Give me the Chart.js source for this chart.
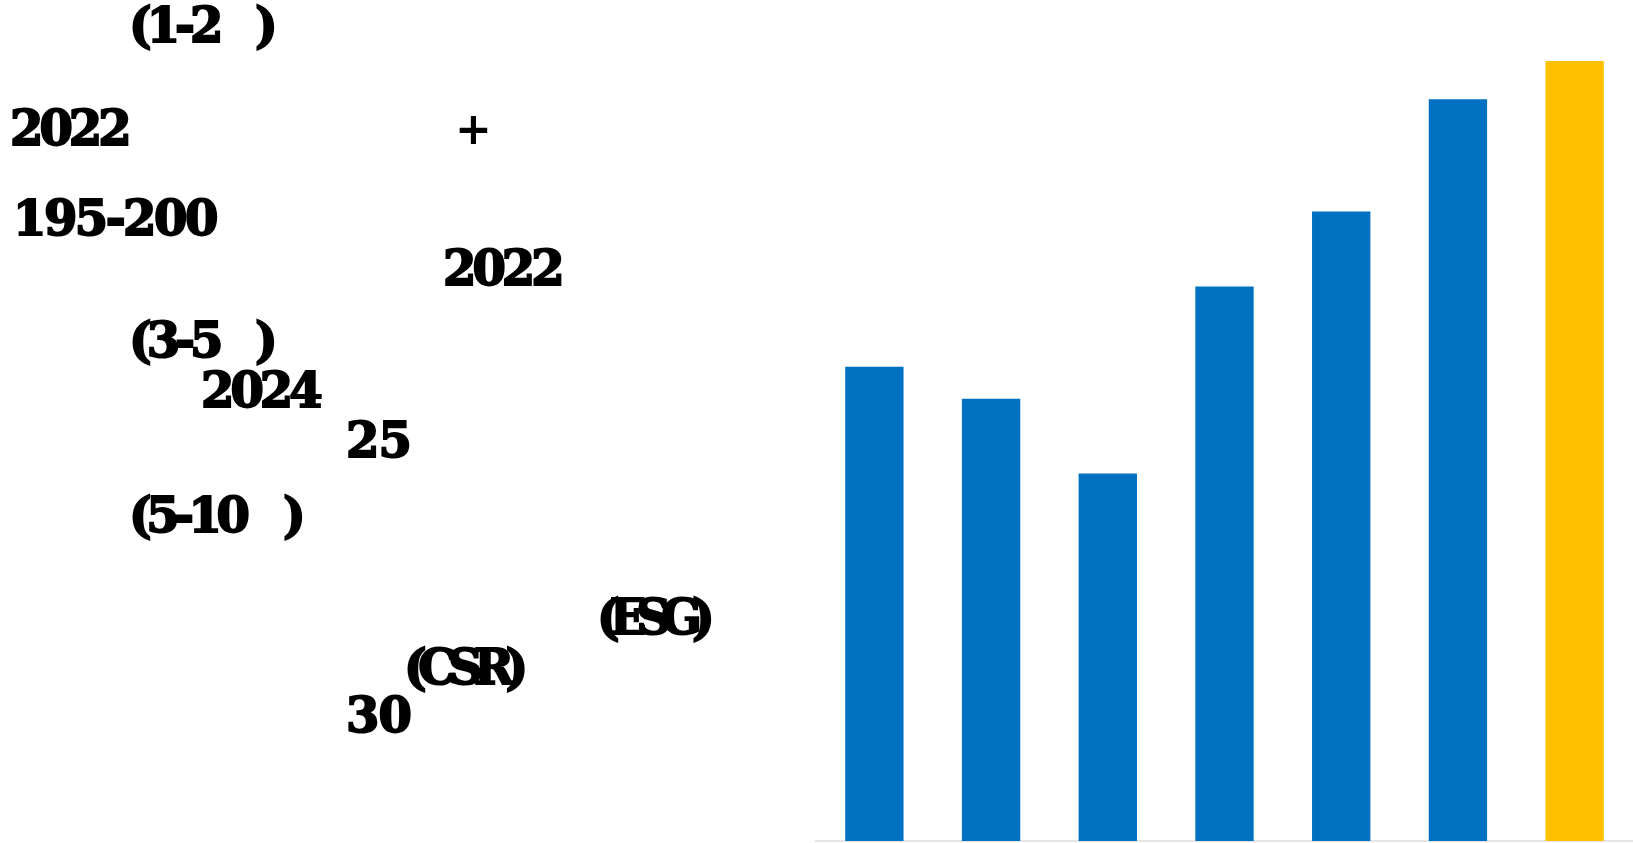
<!DOCTYPE html>
<html>
<head>
<meta charset="utf-8">
<script src="https://cdn.jsdelivr.net/npm/chart.js@4"></script>
<style>
  html, body { margin: 0; padding: 0; background: #fff; }
  #wrap { position: relative; width: 1633px; height: 843px; overflow: hidden; }
  #chart-box { position: absolute; left: 0; top: 0; width: 1633px; height: 843px; }
  .note {
    position: absolute;
    font-family: "DejaVu Serif", serif;
    font-weight: bold;
    font-size: 48px;
    line-height: 48px;
    white-space: pre;
    color: #000;
    -webkit-text-stroke: 2px #000;
  }
  .plus {
    position: absolute;
    font-family: "DejaVu Sans", sans-serif;
    font-weight: bold;
    font-size: 44px;
    line-height: 44px;
    color: #000;
  }
</style>
</head>
<body>
<div id="wrap">
  <div id="chart-box"><canvas id="bar-chart-area"></canvas></div>
</div>
<script>
var categories = ["2018", "2019", "2020", "2021", "2022", "2023", "2024"];
var values = [60.8, 56.7, 47.1, 71.1, 80.7, 95.1, 100];
var barColors = ["#0070C0", "#0070C0", "#0070C0", "#0070C0", "#0070C0", "#0070C0", "#FFC000"];

// the text column on the left: [text, left, top, letterSpacing]
var notes = [
  ["(1-2", 129, 1, -5],
  [")", 255, 1, 0],
  ["2022", 10, 104, -4],
  ["195-200", 13, 194, -2.5],
  ["2022", 443, 244, -4],
  ["(3-5", 129, 316, -5],
  [")", 255, 316, 0],
  ["2024", 201, 366, -4],
  ["25", 346, 416, -1],
  ["(5-10", 129, 491, -5.5],
  [")", 283, 491, 0],
  ["(ESG)", 597, 593, -10],
  ["(CSR)", 404, 643, -8.5],
  ["30", 346, 691, -1]
];

var wrap = document.getElementById("wrap");
notes.forEach(function (n) {
  var d = document.createElement("div");
  d.className = "note";
  d.textContent = n[0];
  d.style.left = n[1] + "px";
  d.style.top = n[2] + "px";
  d.style.letterSpacing = n[3] + "px";
  wrap.appendChild(d);
});
var p = document.createElement("div");
p.className = "plus";
p.textContent = "+";
p.style.left = "455px";
p.style.top = "107px";
wrap.appendChild(p);

var ctx = document.getElementById("bar-chart-area").getContext("2d");
var chart = new Chart(ctx, {
  type: "bar",
  data: {
    labels: categories,
    datasets: [
      {
        label: "Datasets",
        backgroundColor: barColors,
        borderWidth: 0,
        data: values,
        barPercentage: 0.5,
        categoryPercentage: 1.0
      }
    ]
  },
  options: {
    responsive: true,
    maintainAspectRatio: false,
    animation: false,
    layout: {
      padding: { left: 816, right: 0, top: 61, bottom: 2 }
    },
    plugins: {
      legend: { display: false },
      title: { display: false },
      tooltip: { enabled: false }
    },
    scales: {
      x: {
        grid: { display: false, drawTicks: false },
        ticks: { display: false },
        border: { display: true, color: "#e6e6e6", width: 2 }
      },
      y: {
        display: false,
        min: 0,
        max: 100
      }
    }
  }
});
</script>
</body>
</html>
